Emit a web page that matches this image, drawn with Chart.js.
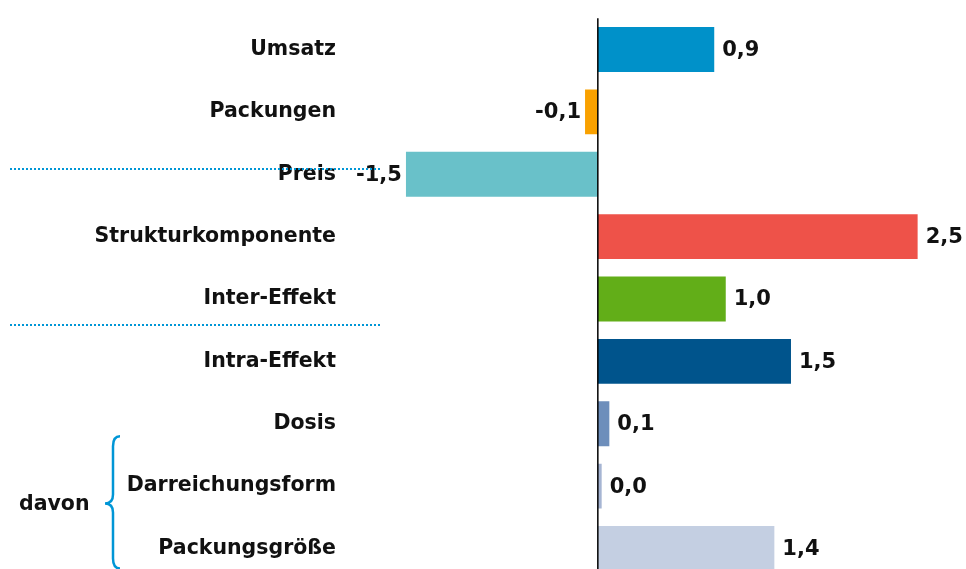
<!DOCTYPE html>
<html>
<head>
<meta charset="utf-8">
<script src="https://cdn.jsdelivr.net/npm/chart.js@4/dist/chart.umd.min.js"></script>
<style>
  html, body { margin: 0; padding: 0; background: #fff; overflow: hidden; }
  canvas { display: block; }
</style>
</head>
<body>
<canvas id="chBar" width="966" height="598"></canvas>
<script>
// categories and values (Veränderung in Prozentpunkten)
var categories = [ 'Umsatz', 'Packungen', 'Preis', 'Strukturkomponente', 'Inter-Effekt',
	'Intra-Effekt', 'Dosis', 'Darreichungsform', 'Packungsgröße' ];
var values = [ 0.91, -0.1, -1.5, 2.5, 1.0, 1.51, 0.09, 0.03, 1.38 ];
var colors = [ '#0091c9', '#f9a100', '#69c1c9', '#ee5249', '#62ae18',
	'#00548c', '#6d8ebb', '#a6b5d3', '#c4cfe2' ];

var font = 'bold 20.5px "DejaVu Sans", Verdana, sans-serif';
var blue = '#0096d6';

// value labels at the end of each bar
var valueLabels = {
	id: 'valueLabels',
	afterDatasetsDraw: function (chart) {
		var ctx = chart.ctx;
		var meta = chart.getDatasetMeta(0);
		ctx.save();
		ctx.font = 'bold 21px "DejaVu Sans", Verdana, sans-serif';
		ctx.fillStyle = '#111';
		ctx.textBaseline = 'middle';
		meta.data.forEach(function (bar, i) {
			var v = values[i];
			var txt = v.toFixed(1).replace('.', ',');
			if (v < 0) {
				ctx.textAlign = 'right';
				ctx.fillText(txt, bar.x - 4, bar.y + 1);
			} else {
				ctx.textAlign = 'left';
				ctx.fillText(txt, bar.x + 8, bar.y + 1);
			}
		});
		// zero line
		var x0 = chart.scales.x.getPixelForValue(0);
		ctx.strokeStyle = '#000';
		ctx.lineWidth = 1.5;
		ctx.beginPath();
		ctx.moveTo(x0, chart.chartArea.top);
		ctx.lineTo(x0, chart.chartArea.bottom);
		ctx.stroke();
		ctx.restore();
	}
};

// dotted separators, brace and "davon"
var extras = {
	id: 'extras',
	afterDraw: function (chart) {
		var ctx = chart.ctx;
		var y = chart.scales.y;
		var step = y.getPixelForValue(1) - y.getPixelForValue(0);
		ctx.save();
		ctx.strokeStyle = blue;
		ctx.lineWidth = 2;
		ctx.setLineDash([ 2, 2 ]);
		[ y.getPixelForValue(2) - 0.09 * step, y.getPixelForValue(4) + 0.42 * step ].forEach(function (py) {
			py = Math.round(py);
			ctx.beginPath();
			ctx.moveTo(10, py);
			ctx.lineTo(381, py);
			ctx.stroke();
		});
		ctx.setLineDash([]);

		// brace
		var top = y.getPixelForValue(6) + 0.2 * step;
		var bot = y.getPixelForValue(8) + 0.32 * step;
		var mid = y.getPixelForValue(7) + 0.28 * step;
		var xr = 120, xm = 113, xc = 105;
		ctx.lineWidth = 2.5;
		ctx.beginPath();
		ctx.moveTo(xr, top);
		ctx.quadraticCurveTo(xm, top, xm, top + 10);
		ctx.lineTo(xm, mid - 9);
		ctx.quadraticCurveTo(xm, mid, xc, mid);
		ctx.quadraticCurveTo(xm, mid, xm, mid + 9);
		ctx.lineTo(xm, bot - 10);
		ctx.quadraticCurveTo(xm, bot, xr, bot);
		ctx.stroke();

		ctx.font = font;
		ctx.fillStyle = '#111';
		ctx.textAlign = 'left';
		ctx.textBaseline = 'middle';
		ctx.fillText('davon', 19, mid + 1);
		ctx.restore();
	}
};

var chBar = document.getElementById('chBar');
if (chBar) {
	new Chart(chBar, {
		type: 'bar',
		data: {
			labels: categories,
			datasets: [
				{
					data: values,
					backgroundColor: colors,
					borderWidth: 0,
					barPercentage: 0.72,
					categoryPercentage: 1.0
				}
			]
		},
		options: {
			indexAxis: 'y',
			responsive: false,
			animation: false,
			layout: { padding: { top: 16, bottom: 0, right: 10, left: 0 } },
			plugins: { legend: { display: false }, tooltip: { enabled: false } },
			scales: {
				x: {
					display: false,
					min: -2.0,
					max: 2.8
				},
				y: {
					grid: { display: false, drawTicks: false },
					border: { display: false },
					ticks: {
						color: '#111',
						padding: 6,
						font: { family: '"DejaVu Sans", Verdana, sans-serif', size: 20.5, weight: 'bold' }
					},
					afterFit: function (scale) { scale.width = 342; }
				}
			}
		},
		plugins: [ valueLabels, extras ]
	});
}
</script>
</body>
</html>
